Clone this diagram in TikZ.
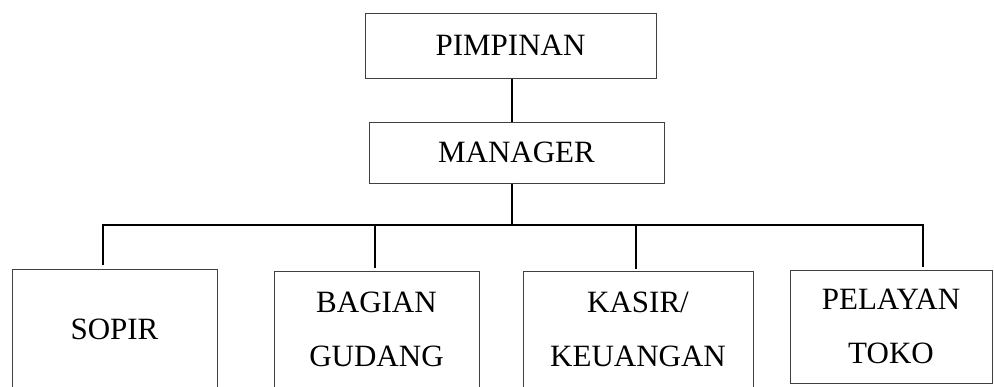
\documentclass[tikz,border=0pt]{standalone}
\usepackage{fontspec}
\setmainfont{Liberation Serif}
\usepackage{tikz}
\usetikzlibrary{calc}

\begin{document}
\begin{tikzpicture}[x=0.5pt, y=-0.5pt,
  box/.style={draw=black!75, line width=0.5pt, align=center, inner sep=0pt,
    font=\fontsize{15.5}{27}\selectfont},
  conn/.style={draw=black, line width=1pt}]
\useasboundingbox (0,0) rectangle (994,386);
\node[box, minimum width=145.5pt, minimum height=32.5pt] (pimpinan) at (510.5,45.5) {PIMPINAN};
\node[box, minimum width=147.5pt, minimum height=30.5pt] (manager) at (516.5,152.5) {MANAGER};
\node[box, minimum width=102.5pt, minimum height=60pt] (sopir) at (114.5,329) {SOPIR};
\node[box, minimum width=102.5pt, minimum height=58pt] (gudang) at (376.5,329) {BAGIAN\\GUDANG};
\node[box, minimum width=115pt, minimum height=58pt] (kasir) at (638,329) {KASIR/\\KEUANGAN};
\node[box, minimum width=101pt, minimum height=56.5pt] (pelayan) at (891,326.5) {PELAYAN\\TOKO};
\coordinate (bus) at (512,225);
\coordinate (b1) at (103,225);
\coordinate (b2) at (375,225);
\coordinate (b3) at (636,225);
\coordinate (b4) at (923,225);
\draw[conn] (bus |- pimpinan.south) -- (bus |- manager.north);
\draw[conn] (bus |- manager.south) -- (bus);
\draw[conn, shorten <=2pt, shorten >=1.5pt] (b1 |- sopir.north) -- (b1) -- (b4) -- (b4 |- pelayan.north);
\draw[conn, shorten >=1.5pt] (b2) -- (b2 |- gudang.north);
\draw[conn, shorten >=1pt] (b3) -- (b3 |- kasir.north);
\end{tikzpicture}
\end{document}
